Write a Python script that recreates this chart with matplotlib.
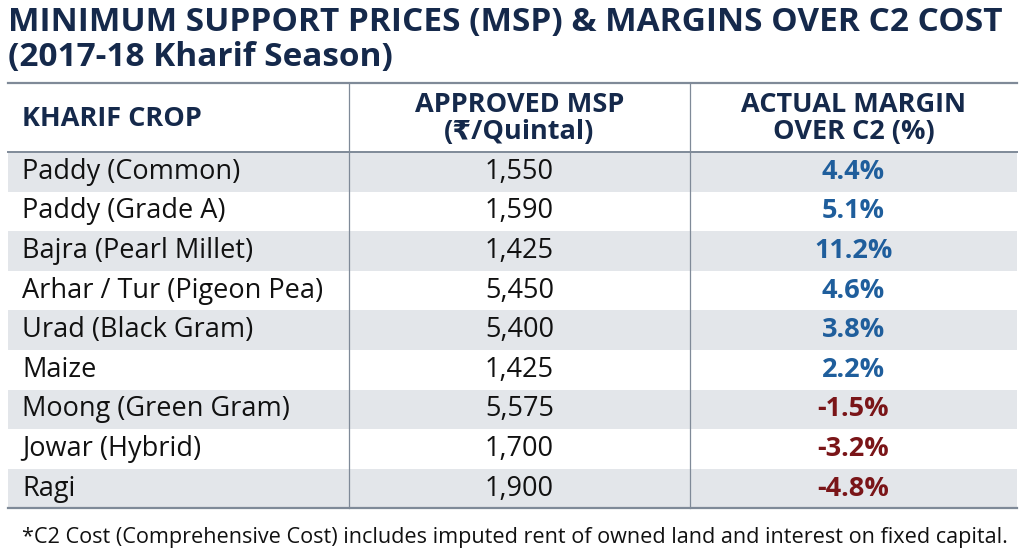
import matplotlib
matplotlib.use("Agg")
import matplotlib.pyplot as plt

# table data
crops = [
    "Paddy (Common)",
    "Paddy (Grade A)",
    "Bajra (Pearl Millet)",
    "Arhar / Tur (Pigeon Pea)",
    "Urad (Black Gram)",
    "Maize",
    "Moong (Green Gram)",
    "Jowar (Hybrid)",
    "Ragi",
]
msp = [1550, 1590, 1425, 5450, 5400, 1425, 5575, 1700, 1900]
margin = [4.4, 5.1, 11.2, 4.6, 3.8, 2.2, -1.5, -3.2, -4.8]

title = "MINIMUM SUPPORT PRICES (MSP) & MARGINS OVER C2 COST\n(2017-18 Kharif Season)"
headers = ["KHARIF CROP", "APPROVED MSP\n(₹/Quintal)", "ACTUAL MARGIN\nOVER C2 (%)"]
footnote = ("*C2 Cost (Comprehensive Cost) includes imputed rent of owned land "
            "and interest on fixed capital.")

navy = "#15294b"
line_col = "#7f8a98"
shade = "#e3e6ea"
pos_col = "#1f5e9c"
neg_col = "#7a1518"

plt.rcParams["font.family"] = ["Open Sans", "DejaVu Sans"]

fig = plt.figure(figsize=(10.24, 5.59), dpi=100)
ax = fig.add_axes([0, 0, 1, 1])
ax.set_xlim(0, 1024)
ax.set_ylim(559, 0)
ax.axis("off")

left, right = 8, 1017
col1, col2 = 349, 690
top, head_bot = 83, 152
row_h = 39.6

# title
ax.text(8, 40, title, fontsize=24, fontweight="bold", color=navy,
        va="center", ha="left", linespacing=1.1)

# alternating row shading
for i in range(len(crops)):
    y0 = head_bot + i * row_h
    if i % 2 == 0:
        ax.fill_between([left, right], y0, y0 + row_h, color=shade, lw=0)

bottom = head_bot + len(crops) * row_h

# header
hy = (top + head_bot) / 2 + 1
ax.text(22, hy + 1, headers[0], fontsize=19.5, fontweight="bold",
        color=navy, va="center", ha="left")
ax.text((col1 + col2) / 2, hy, headers[1], fontsize=19.5,
        fontweight="bold", color=navy, va="center", ha="center", linespacing=1.05)
ax.text((col2 + right) / 2, hy, headers[2], fontsize=19.5,
        fontweight="bold", color=navy, va="center", ha="center", linespacing=1.05)

# rows
for i, (c, m, g) in enumerate(zip(crops, msp, margin)):
    yc = head_bot + (i + 0.5) * row_h
    ax.text(22, yc, c, fontsize=19.5, color="#111111", va="center", ha="left")
    ax.text((col1 + col2) / 2, yc, f"{m:,}", fontsize=19.5, color="#111111",
            va="center", ha="center")
    ax.text((col2 + right) / 2, yc, f"{g:.1f}%", fontsize=19.5, fontweight="bold",
            color=pos_col if g >= 0 else neg_col, va="center", ha="center")

# grid lines
ax.plot([left, right], [top, top], color=line_col, lw=1.6)
ax.plot([left, right], [head_bot, head_bot], color=line_col, lw=1.4)
ax.plot([left, right], [bottom, bottom], color=line_col, lw=1.6)
for x in (col1, col2):
    ax.plot([x, x], [top, bottom], color=line_col, lw=0.9)

# footnote
ax.text(22, 537, footnote, fontsize=15.6, color="#111111", va="center", ha="left")

fig.savefig("out.png", dpi=100)
